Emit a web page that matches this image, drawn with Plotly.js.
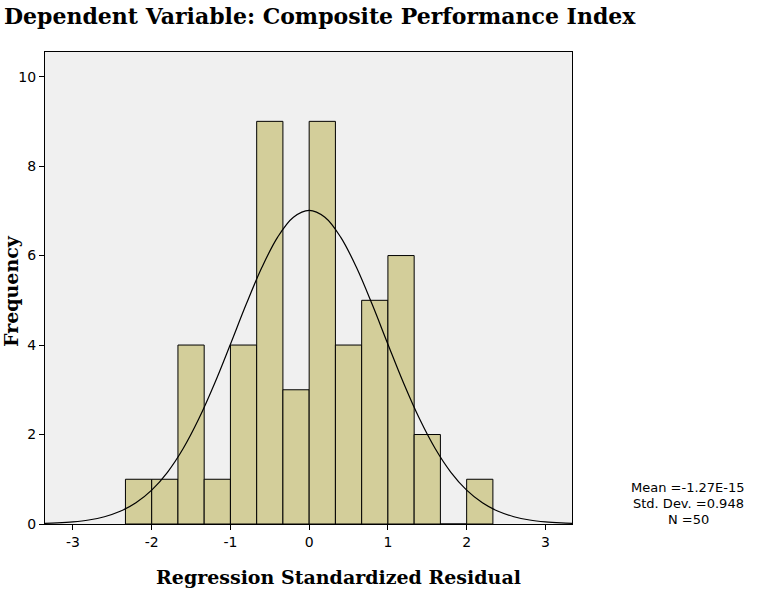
<!DOCTYPE html>
<html>
<head>
<meta charset="utf-8">
<script src="https://cdn.plot.ly/plotly-3.0.1.min.js"></script>
<style>html,body{margin:0;padding:0;background:#fff;}#chart{width:759px;height:591px;}</style>
</head>
<body>
<div id="chart"></div>
<script>
// Histogram bins (width 1/3) and frequencies
var binCenters = [-2.1667, -1.8333, -1.5, -1.1667, -0.8333, -0.5, -0.1667, 0.1667, 0.5, 0.8333, 1.1667, 1.5, 1.8333, 2.1667];
var frequencies = [1, 1, 4, 1, 4, 9, 3, 9, 4, 5, 6, 2, 0, 1];
var binWidth = 1/3;

// Normal curve
var curveX = [-3.4, -3.2, -3.0, -2.8, -2.6, -2.4, -2.2, -2.0, -1.8, -1.6, -1.4, -1.2, -1.0, -0.8, -0.6, -0.4, -0.2, 0,
              0.2, 0.4, 0.6, 0.8, 1.0, 1.2, 1.4, 1.6, 1.8, 2.0, 2.2, 2.4, 2.6, 2.8, 3.0, 3.2, 3.4];
var curveY = [0.011, 0.024, 0.047, 0.089, 0.163, 0.284, 0.474, 0.757, 1.156, 1.687, 2.356, 3.146, 4.019, 4.910, 5.738, 6.413, 6.856, 7.01,
              6.856, 6.413, 5.738, 4.910, 4.019, 3.146, 2.356, 1.687, 1.156, 0.757, 0.474, 0.284, 0.163, 0.089, 0.047, 0.024, 0.011];

var yTicks = [0, 2, 4, 6, 8, 10];
var xTicks = [-3, -2, -1, 0, 1, 2, 3];
var statsLines = ["Mean =-1.27E-15", "Std. Dev. =0.948", "N =50"];

var serif = 'DejaVu Serif, Liberation Serif, serif';
var sans = 'DejaVu Sans, Liberation Sans, Arial, sans-serif';

var traces = [
  {
    type: 'bar',
    x: binCenters,
    y: frequencies,
    width: binCenters.map(function(){ return binWidth; }),
    marker: {color: '#d3ce9a', line: {color: '#000000', width: 1}},
    hoverinfo: 'x+y'
  },
  {
    type: 'scatter',
    mode: 'lines',
    x: curveX,
    y: curveY,
    line: {color: '#000000', width: 1.2, shape: 'spline'},
    hoverinfo: 'skip'
  }
];

var statsY = [487, 503, 519];
var statsAnn = statsLines.map(function(t, i){
  return {
    text: t,
    xref: 'paper', yref: 'paper',
    x: (688 - 45) / 527, y: (524 - statsY[i]) / 472,
    xanchor: 'center', yanchor: 'middle', showarrow: false,
    font: {family: sans, size: 13, color: '#000'}
  };
});

var layout = {
  width: 759,
  height: 591,
  margin: {l: 45, r: 187, t: 52, b: 67},
  paper_bgcolor: '#ffffff',
  plot_bgcolor: '#f0f0f0',
  showlegend: false,
  bargap: 0,
  title: {
    text: 'Dependent Variable: Composite Performance Index',
    font: {family: serif, size: 22, color: '#000', weight: 'bold'},
    xref: 'container', x: 4/759, xanchor: 'left',
    yref: 'container', y: 1 - 16/591, yanchor: 'middle'
  },
  xaxis: {
    range: [-3.355, 3.338],
    tickvals: xTicks,
    ticktext: xTicks.map(String),
    ticks: 'outside', ticklen: 5, tickcolor: '#000', tickwidth: 1,
    showline: true, linecolor: '#000', linewidth: 1, mirror: true,
    showgrid: false, zeroline: false,
    tickfont: {family: sans, size: 14, color: '#000'}
  },
  yaxis: {
    range: [0, 10.55],
    tickvals: yTicks,
    ticktext: yTicks.map(String),
    ticks: 'outside', ticklen: 5, tickcolor: '#000', tickwidth: 1,
    showline: true, linecolor: '#000', linewidth: 1, mirror: true,
    showgrid: false, zeroline: false,
    tickfont: {family: sans, size: 14, color: '#000'}
  },
  annotations: [
    {
      text: 'Regression Standardized Residual',
      xref: 'paper', yref: 'paper',
      x: (338 - 45) / 527, y: -(577 - 524) / 472,
      xanchor: 'center', yanchor: 'middle', showarrow: false,
      font: {family: serif, size: 19, color: '#000', weight: 'bold'}
    },
    {
      text: 'Frequency',
      xref: 'paper', yref: 'paper',
      x: -(45 - 11) / 527, y: (524 - 291) / 472,
      xanchor: 'center', yanchor: 'middle', textangle: -90, showarrow: false,
      font: {family: serif, size: 19, color: '#000', weight: 'bold'}
    }
  ].concat(statsAnn)
};

Plotly.newPlot('chart', traces, layout, {displayModeBar: false, staticPlot: true});
</script>
</body>
</html>
